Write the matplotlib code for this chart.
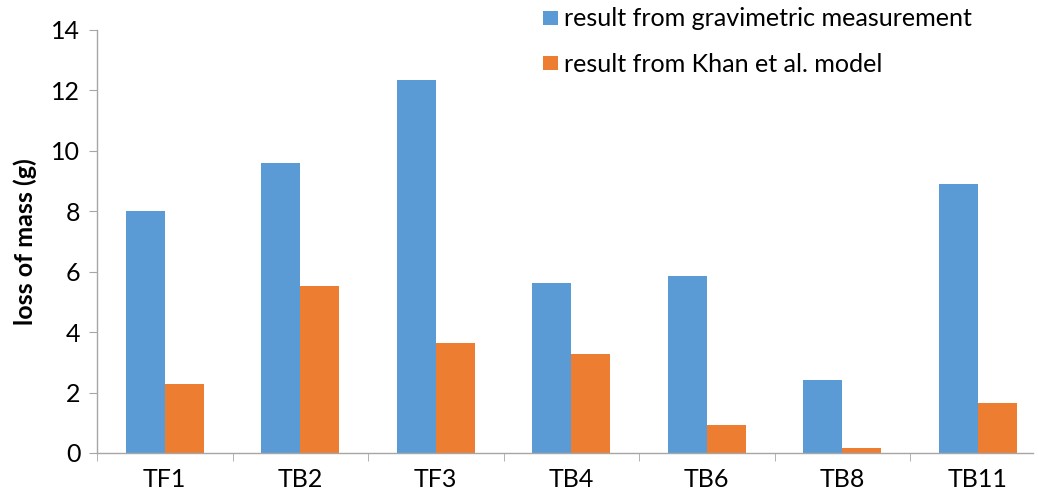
import matplotlib
matplotlib.use("Agg")
import matplotlib.pyplot as plt
from matplotlib.patches import Rectangle
import numpy as np

categories = ["TF1", "TB2", "TF3", "TB4", "TB6", "TB8", "TB11"]
gravimetric = [8.01, 9.58, 12.35, 5.63, 5.84, 2.41, 8.89]
khan_model = [2.27, 5.51, 3.64, 3.26, 0.93, 0.16, 1.64]
series_labels = ["result from gravimetric measurement", "result from Khan et al. model"]
yticks = [0, 2, 4, 6, 8, 10, 12, 14]

plt.rcParams['font.family'] = ['Lato', 'DejaVu Sans']

W, H = 1038, 499
fig = plt.figure(figsize=(W / 100, H / 100), dpi=100)
left, right, top, bottom = 97, 1033, 29.7, 453
ax = fig.add_axes([left / W, 1 - bottom / H, (right - left) / W, (bottom - top) / H])

x = np.arange(len(categories))
bw = 0.286
c_blue = "#5B9BD5"
c_orange = "#ED7D31"
colors = [c_blue, c_orange]
ax.bar(x - bw / 2, gravimetric, bw, color=c_blue)
ax.bar(x + bw / 2, khan_model, bw, color=c_orange)

ax.set_xlim(-0.5, -0.5 + (right - left) / 135.5)
ax.set_ylim(0, 14)
ax.set_yticks(yticks)
ax.set_yticklabels([str(v) for v in yticks])

ax.set_xticks(x)
ax.set_xticklabels(categories)
ax.set_xticks(np.arange(len(categories)) - 0.5, minor=True)

spine_c = "#A6A6A6"
for s in ["top", "right"]:
    ax.spines[s].set_visible(False)
for s in ["left", "bottom"]:
    ax.spines[s].set_color(spine_c)
    ax.spines[s].set_linewidth(1.0)

ax.tick_params(axis="y", which="major", length=6, color=spine_c, labelsize=18, pad=6)
ax.tick_params(axis="x", which="major", length=0, labelsize=18, pad=11)
ax.tick_params(axis="x", which="minor", length=6, color=spine_c)

ax.set_ylabel("loss of mass (g)", fontsize=18, fontweight="bold", labelpad=10)

# manual legend
row_y = [18, 63]
for lab, col, yc in zip(series_labels, colors, row_y):
    fig.patches.append(Rectangle((543 / W, 1 - (yc + 7.3) / H), 14.6 / W, 14.6 / H,
                                 transform=fig.transFigure, facecolor=col, edgecolor="none"))
    fig.text(564 / W, 1 - (yc + 1) / H, lab, fontsize=18.1, va="center", ha="left")

fig.savefig("out.png", dpi=100)
